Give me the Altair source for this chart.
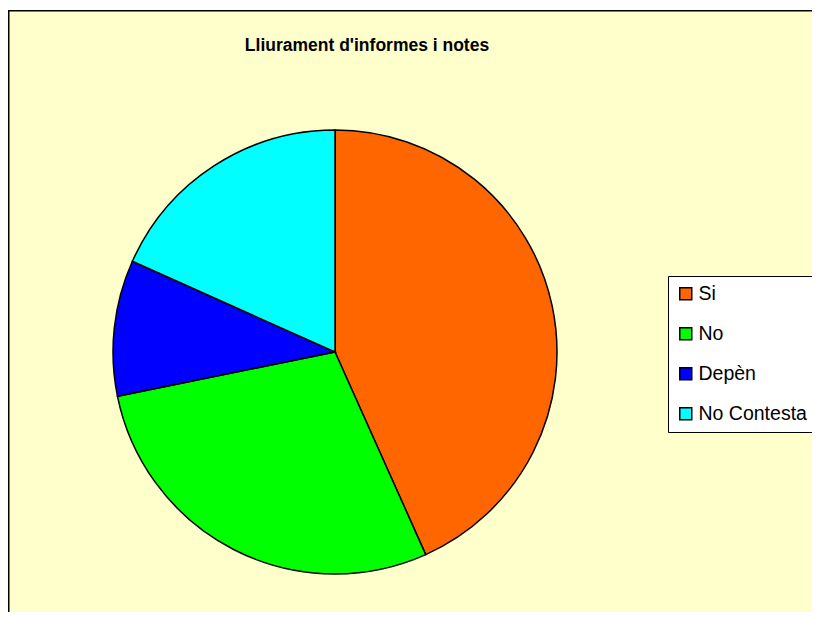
import altair as alt
import pandas as pd

categories = ["Si", "No", "Depèn", "No Contesta"]
values = [43.3, 28.5, 9.9, 18.3]
colors = ["#FF6600", "#00FF00", "#0000FF", "#00FFFF"]
title_text = "Lliurament d'informes i notes"

df = pd.DataFrame({"cat": categories, "val": values, "idx": list(range(len(categories)))})

W, H = 804, 604

panel = alt.Chart(pd.DataFrame({"a": [0]})).mark_rect(
    fill="#FFFFCC", stroke="#000000", strokeWidth=1.5
).encode(
    x=alt.value(0.75), x2=alt.value(W + 20),
    y=alt.value(2.75), y2=alt.value(H + 20),
)

pie = alt.Chart(df).mark_arc(
    radius=222, stroke="#000000", strokeWidth=1.5, x=327, y=344
).encode(
    theta=alt.Theta("val:Q", stack=True),
    order=alt.Order("idx:Q"),
    color=alt.Color(
        "cat:N",
        scale=alt.Scale(domain=categories, range=colors),
        sort=categories,
        legend=alt.Legend(
            title=None,
            orient="none",
            legendX=660,
            legendY=268,
            symbolType="square",
            symbolSize=144,
            symbolStrokeColor="#000000",
            symbolStrokeWidth=1.5,
            labelFont="Liberation Sans",
            labelFontSize=19.5,
            labelColor="#000000",
            labelOffset=3,
            rowPadding=19,
            padding=8,
            strokeColor="#000000",
            fillColor="#FFFFFF",
            labelLimit=300,
        ),
    ),
)

title = alt.Chart(pd.DataFrame({"t": [title_text]})).mark_text(
    font="Liberation Sans", fontSize=17.5, fontWeight="bold", color="#000000",
    align="center", baseline="alphabetic"
).encode(
    text="t:N", x=alt.value(359), y=alt.value(43)
)

chart = alt.layer(panel, pie, title).properties(
    width=W, height=H,
    autosize=alt.AutoSizeParams(type="none"),
    padding=0,
    background="#FFFFFF",
).configure_view(stroke=None)

chart.save("out.html", embed_options={"renderer": "svg", "actions": False})
